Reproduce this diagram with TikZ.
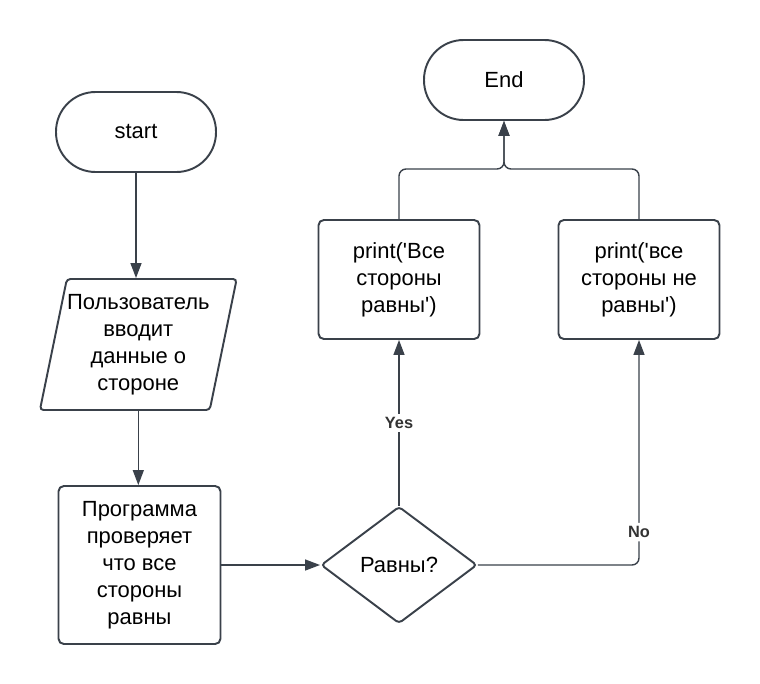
\documentclass[tikz,border=0pt]{standalone}
\usepackage{fontspec}
\setmainfont{Liberation Sans}
\usetikzlibrary{arrows.meta, shapes.geometric, positioning}
\definecolor{LineGray}{RGB}{58,65,74}
\definecolor{LabelGray}{RGB}{51,51,51}

\begin{document}
\begin{tikzpicture}[x=0.02cm, y=-0.02cm, font=\fontsize{12.5}{15.3}\selectfont,
	terminal/.style={draw=LineGray, line width=1.1pt, rounded corners=7.9mm,
		minimum width=3.2cm, minimum height=1.6cm, align=center},
	inputbox/.style={trapezium, trapezium left angle=75, trapezium right angle=105,
		trapezium stretches=true, draw=LineGray, line width=1.1pt, rounded corners=2pt,
		minimum width=3.94cm, minimum height=2.62cm, inner sep=0pt, align=center},
	process/.style={draw=LineGray, line width=1.1pt, rounded corners=3pt,
		minimum width=3.22cm, minimum height=2.38cm, align=center},
	decision/.style={diamond, draw=LineGray, line width=1.1pt, rounded corners=2pt,
		minimum width=3.12cm, minimum height=2.34cm, inner sep=0pt, align=center},
	line/.style={draw=LineGray, line width=0.8pt},
	arrow/.style={line, -{Triangle[length=3mm, width=2.2mm]}},
	edgelabel/.style={fill=white, text=LabelGray, inner sep=2pt,
		font=\bfseries\fontsize{9.3}{11}\selectfont}]
	\fill[white] (0,0) rectangle (760,683);
	\useasboundingbox (0,0) rectangle (760,683);

	\node[terminal] (start) at (136,132) {start};
	\node[terminal] (finish) at (504,80) {End};
	\node[inputbox] (input) at (138.3,344.5) {Пользователь\\вводит\\данные о\\стороне};
	\node[process, minimum width=3.24cm, minimum height=3.16cm] (check) at (139.5,565)
		{Программа\\проверяет\\что все\\стороны\\равны};
	\node[decision] (equal) at (399,565) {Равны?};
	\node[process] (same) at (399,279.5) {print(\textquotesingle Все\\стороны\\равны\textquotesingle)};
	\node[process] (differ) at (639,279.5) {print(\textquotesingle все\\стороны не\\равны\textquotesingle)};
	\coordinate (merge) at (504,169);

	\draw[arrow] (start) -- (start |- input.north);
	\draw[arrow] (input.south) -- (input.south |- check.north);
	\draw[arrow] (check) -- (equal);
	\draw[arrow] (equal) -- node[edgelabel] {Yes} (same);
	\draw[arrow, rounded corners=4pt] (equal) -| node[edgelabel, pos=0.573] {No} (differ);
	\draw[arrow, rounded corners=4pt] (same) |- (merge) -- (finish);
	\draw[arrow, rounded corners=4pt] (differ) |- (merge) -- (finish);
\end{tikzpicture}
\end{document}
